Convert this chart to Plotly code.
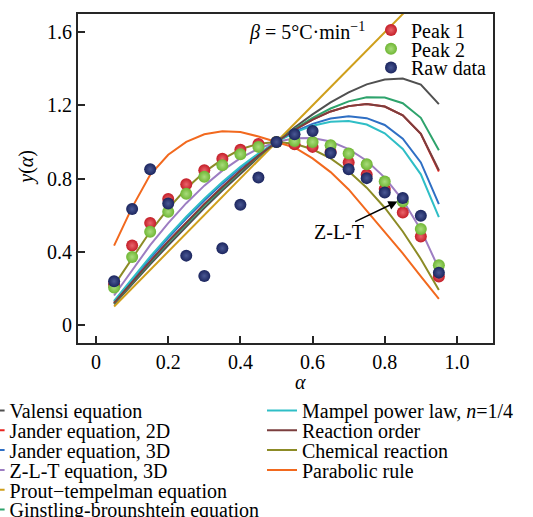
import plotly.graph_objects as go

# ---------------- data ----------------
alpha = [0.05, 0.10, 0.15, 0.20, 0.25, 0.30, 0.35, 0.40, 0.45, 0.50,
         0.55, 0.60, 0.65, 0.70, 0.75, 0.80, 0.85, 0.90, 0.95]

peak1 = [0.220, 0.433, 0.556, 0.688, 0.768, 0.845, 0.908, 0.957, 0.989, 1.000,
         0.988, 0.973, 0.945, 0.887, 0.820, 0.742, 0.614, 0.483, 0.264]
peak2 = [0.203, 0.371, 0.509, 0.618, 0.716, 0.809, 0.873, 0.933, 0.973, 1.000,
         1.005, 1.000, 0.982, 0.937, 0.878, 0.783, 0.674, 0.524, 0.325]
raw = [0.238, 0.633, 0.851, 0.663, 0.378, 0.267, 0.418, 0.656, 0.805, 1.000,
       1.042, 1.060, 0.940, 0.851, 0.802, 0.723, 0.693, 0.596, 0.285]

valensi = [0.112, 0.222, 0.330, 0.435, 0.538, 0.638, 0.734, 0.827, 0.916, 1.000,
           1.079, 1.151, 1.216, 1.271, 1.315, 1.342, 1.347, 1.314, 1.207]
jander2d = [0.119, 0.235, 0.347, 0.456, 0.560, 0.660, 0.754, 0.843, 0.925, 1.000,
            1.066, 1.122, 1.167, 1.196, 1.207, 1.194, 1.146, 1.044, 0.838]
jander3d = [0.126, 0.248, 0.364, 0.475, 0.581, 0.680, 0.772, 0.857, 0.933, 1.000,
            1.056, 1.099, 1.128, 1.140, 1.130, 1.093, 1.018, 0.888, 0.660]
zlt = [0.160, 0.301, 0.435, 0.556, 0.665, 0.761, 0.843, 0.911, 0.963, 1.000,
       1.020, 1.021, 1.002, 0.961, 0.897, 0.805, 0.682, 0.520, 0.306]
prout = [0.10, 0.20, 0.30, 0.40, 0.50, 0.60, 0.70, 0.80, 0.90, 1.00,
         1.10, 1.20, 1.30, 1.40, 1.50, 1.60, 1.70, 1.80, 1.90]
ginstling = [0.117, 0.231, 0.341, 0.449, 0.552, 0.652, 0.747, 0.838, 0.922, 1.000,
             1.071, 1.132, 1.183, 1.222, 1.244, 1.243, 1.212, 1.132, 0.954]
mampel = [0.130, 0.254, 0.373, 0.485, 0.591, 0.690, 0.781, 0.864, 0.937, 1.000,
          1.051, 1.089, 1.110, 1.114, 1.095, 1.047, 0.962, 0.823, 0.589]
reaction = [0.119, 0.235, 0.347, 0.456, 0.560, 0.660, 0.754, 0.843, 0.925, 1.000,
            1.066, 1.122, 1.167, 1.196, 1.207, 1.194, 1.146, 1.044, 0.845]
chemical = [0.215, 0.365, 0.51, 0.635, 0.745, 0.835, 0.905, 0.96, 0.99, 1.00,
            0.99, 0.96, 0.91, 0.84, 0.75, 0.64, 0.51, 0.36, 0.19]
parabolic = [0.433, 0.642, 0.820, 0.930, 1.000, 1.042, 1.058, 1.054, 1.030, 1.000,
             0.970, 0.910, 0.835, 0.740, 0.625, 0.510, 0.390, 0.265, 0.142]

xtick_vals = [0, 0.2, 0.4, 0.6, 0.8, 1.0]
xtick_text = ["0", "0.2", "0.4", "0.6", "0.8", "1.0"]
ytick_vals = [0, 0.4, 0.8, 1.2, 1.6]
ytick_text = ["0", "0.4", "0.8", "1.2", "1.6"]

# ---------------- geometry / style ----------------
W, H = 533, 517
ML, MR, MT, MB = 78, 40, 14, 174
PW, PH = W - ML - MR, H - MT - MB
FONT = "Liberation Serif"
FS = 20


def px_x(px):
    return (px - ML) / PW


def px_y(py):
    return 1 - (py - MT) / PH


line_series = [
    ("Valensi equation", valensi, "#505050"),
    ("Jander equation, 2D", jander2d, "#e8251f"),
    ("Jander equation, 3D", jander3d, "#2f6fc4"),
    ("Z-L-T equation, 3D", zlt, "#9d7dc2"),
    ("Prout\u2212tempelman equation", prout, "#cf9f1b"),
    ("Ginstling-brounshtein equation", ginstling, "#2ea36c"),
    ("Mampel power law, <i>n</i>=1/4", mampel, "#2fbec6"),
    ("Reaction order", reaction, "#7b3e3e"),
    ("Chemical reaction", chemical, "#8c8b26"),
    ("Parabolic rule", parabolic, "#f2691e"),
]

# legend slot (text-start x, row centre y) for each line series
row_y = [410.5 + 19.8 * k for k in range(6)]
line_slots = [
    (9.6, row_y[0]), (9.6, row_y[1]), (9.6, row_y[2]), (9.6, row_y[3]),
    (9.6, row_y[4]), (9.6, row_y[5]),
    (302, row_y[0]), (302, row_y[1]), (302, row_y[2]), (302, row_y[3]),
]

marker_series = [
    ("Peak 1", peak1, "#c41d27", "#e9656b"),
    ("Peak 2", peak2, "#6fb634", "#a9dc7c"),
    ("Raw data", raw, "#1b255e", "#4a5894"),
]
marker_slots = [(411, 30.0), (411, 48.8), (411, 67.6)]

fig = go.Figure()
layout_legends = {}
lid = 1


def legend_key(i):
    return "legend" if i == 1 else "legend%d" % i


def make_legend(text_x, cy):
    return dict(
        x=px_x(text_x - 40), y=px_y(cy), xanchor="left", yanchor="middle",
        xref="paper", yref="paper",
        bgcolor="rgba(0,0,0,0)", borderwidth=0, itemwidth=30,
        font=dict(family=FONT, size=FS, color="black"),
    )


for (name, ys, col), (tx, ty) in zip(line_series, line_slots):
    key = legend_key(lid)
    fig.add_trace(go.Scatter(x=alpha, y=ys, mode="lines", name=name,
                             line=dict(color=col, width=2), legend=key,
                             hoverinfo="skip"))
    layout_legends[key] = make_legend(tx, ty)
    lid += 1

for (name, ys, col, hi), (tx, ty) in zip(marker_series, marker_slots):
    key = legend_key(lid)
    fig.add_trace(go.Scatter(x=alpha, y=ys, mode="markers", name=name,
                             marker=dict(size=12, color=col, line=dict(width=0),
                                         gradient=dict(type="radial", color=hi)),
                             legend=key))
    layout_legends[key] = make_legend(tx, ty)
    lid += 1

axis_common = dict(
    showline=True, linecolor="#262626", linewidth=2, mirror=True,
    ticks="inside", ticklen=7, tickwidth=1.5, tickcolor="#262626",
    showgrid=False, zeroline=False,
    tickfont=dict(family=FONT, size=FS, color="black"),
)

fig.update_layout(
    width=W, height=H,
    margin=dict(l=ML, r=MR, t=MT, b=MB, autoexpand=False),
    paper_bgcolor="white", plot_bgcolor="white",
    showlegend=True,
    font=dict(family=FONT, size=FS, color="black"),
    xaxis=dict(range=[-0.05, 1.1], tickvals=xtick_vals, ticktext=xtick_text,
               **axis_common),
    yaxis=dict(range=[-0.1, 1.7], tickvals=ytick_vals, ticktext=ytick_text,
               **axis_common),
    **layout_legends,
)

fig.add_annotation(x=0.584, y=1.603, xref="x", yref="y", showarrow=False,
                   xanchor="center", yanchor="middle",
                   text="<i>\u03b2</i> = 5\u00b0C\u00b7min<sup>\u22121</sup>",
                   font=dict(family=FONT, size=FS, color="black"))
fig.add_annotation(x=0.673, y=0.509, xref="x", yref="y", showarrow=False,
                   xanchor="center", yanchor="middle",
                   text="Z-L-T", font=dict(family=FONT, size=FS, color="black"))
fig.add_annotation(x=0.835, y=0.674, ax=0.714, ay=0.560, xref="x", yref="y",
                   axref="x", ayref="y", text="", showarrow=True,
                   arrowhead=2, arrowsize=1.2, arrowwidth=1.5, arrowcolor="black")
fig.add_annotation(x=px_x(300), y=px_y(382), xref="paper", yref="paper",
                   xanchor="center", yanchor="middle",
                   showarrow=False, text="<i>\u03b1</i>",
                   font=dict(family=FONT, size=FS, color="black"))
fig.add_annotation(x=px_x(26.7), y=px_y(167), xref="paper", yref="paper",
                   xanchor="center", yanchor="middle",
                   showarrow=False, textangle=-90, text="<i>y</i>(<i>\u03b1</i>)",
                   font=dict(family=FONT, size=FS, color="black"))

fig.write_html("out.html")
